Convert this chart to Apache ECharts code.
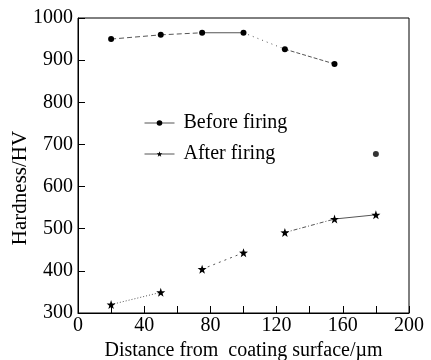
<!DOCTYPE html>
<html>
<head>
<meta charset="utf-8">
<script src="https://cdn.jsdelivr.net/npm/echarts@6/dist/echarts.min.js"></script>
<style>
  html, body { margin: 0; padding: 0; background: #fff; }
  #chart { width: 431px; height: 360px; }
</style>
</head>
<body>
<div id="chart"></div>
<script>
// 数据：距涂层表面的距离 (µm) 与硬度 (HV)
const distances = [20, 50, 75, 100, 125, 155, 180];
const beforeFiring = [950, 960, 965, 965, 926, 891];
const beforeExtra = [[180, 677]];
const afterFiring = [320, 349, 404, 443, 491, 523, 533];
const xTicks = [0, 40, 80, 120, 160, 200];

// 各段连线的线型（原图中线段样式不一）
const beforeSegments = [[0, 1, [5, 3]], [1, 2, [5, 3]], [2, 3, 'solid'], [3, 4, [1, 4]], [4, 5, [4, 2]]];
const afterSegments = [[0, 1, [1, 2]], [2, 3, [2, 4]], [4, 5, [4, 2, 1, 2]], [5, 6, 'solid']];

const STAR = 'path://M0,-10L2.35,-3.24L9.51,-3.09L3.8,1.24L5.88,8.09L0,4L-5.88,8.09L-3.8,1.24L-9.51,-3.09L-2.35,-3.24Z';
const FONT = 'Liberation Serif';
const LINE_COLOR = '#555';

function pairs(values) {
    return values.map((v, i) => [distances[i], v]);
}

function segmentSeries(values, segments) {
    return segments.map(([a, b, type]) => ({
        type: 'line',
        silent: true,
        symbol: 'none',
        data: [[distances[a], values[a]], [distances[b], values[b]]],
        lineStyle: { color: LINE_COLOR, width: 1, type: type },
        z: 1
    }));
}

const chart = echarts.init(document.getElementById('chart'));
chart.setOption({
    animation: false,
    grid: {
        left: 78,
        right: 22,
        top: 18,
        bottom: 47,
        outerBoundsMode: 'none',
        show: true,
        borderColor: '#000',
        borderWidth: 1
    },
    legend: {
        orient: 'vertical',
        left: 144,
        top: 113,
        padding: 0,
        itemWidth: 30,
        itemHeight: 7,
        itemGap: 11,
        data: ['Before firing', 'After firing'],
        textStyle: { fontFamily: FONT, fontSize: 20, color: '#000', padding: [0, 0, 0, 4] },
        lineStyle: { width: 1, color: LINE_COLOR, type: 'solid' }
    },
    xAxis: {
        type: 'value',
        min: 0,
        max: 200,
        interval: 20,
        name: 'Distance from  coating surface/\u00b5m',
        nameLocation: 'middle',
        nameGap: 27,
        nameTextStyle: { fontFamily: FONT, fontSize: 20, color: '#000' },
        axisLine: { lineStyle: { color: '#000', width: 1 } },
        axisTick: { inside: true, length: 7, lineStyle: { color: '#000' } },
        axisLabel: {
            fontFamily: FONT,
            fontSize: 20,
            color: '#000',
            margin: 3,
            formatter: (v) => (xTicks.includes(v) ? String(v) : '')
        },
        splitLine: { show: false }
    },
    yAxis: {
        type: 'value',
        min: 300,
        max: 1000,
        interval: 100,
        axisLine: { show: true, lineStyle: { color: '#000', width: 1 } },
        axisTick: { show: true, inside: true, length: 7, lineStyle: { color: '#000' } },
        axisLabel: { fontFamily: FONT, fontSize: 20, color: '#000', margin: 5, formatter: (v) => String(v) },
        splitLine: { show: false }
    },
    graphic: [{
        type: 'text',
        x: 20,
        y: 188,
        rotation: Math.PI / 2,
        style: {
            text: 'Hardness/HV',
            font: '21px "Liberation Serif"',
            fill: '#000',
            textAlign: 'center',
            textVerticalAlign: 'middle'
        }
    }],
    series: [
        {
            name: 'Before firing',
            type: 'line',
            data: pairs(beforeFiring),
            symbol: 'circle',
            symbolSize: 6,
            itemStyle: { color: '#000' },
            lineStyle: { width: 0 },
            z: 3
        },
        {
            name: 'Before firing',
            type: 'scatter',
            data: beforeExtra,
            symbol: 'circle',
            symbolSize: 6,
            itemStyle: { color: '#000' },
            z: 3
        },
        {
            name: 'After firing',
            type: 'line',
            data: pairs(afterFiring),
            symbol: STAR,
            symbolSize: 9,
            itemStyle: { color: '#000' },
            lineStyle: { width: 0 },
            z: 3
        },
        ...segmentSeries(beforeFiring, beforeSegments),
        ...segmentSeries(afterFiring, afterSegments)
    ]
});
</script>
</body>
</html>
